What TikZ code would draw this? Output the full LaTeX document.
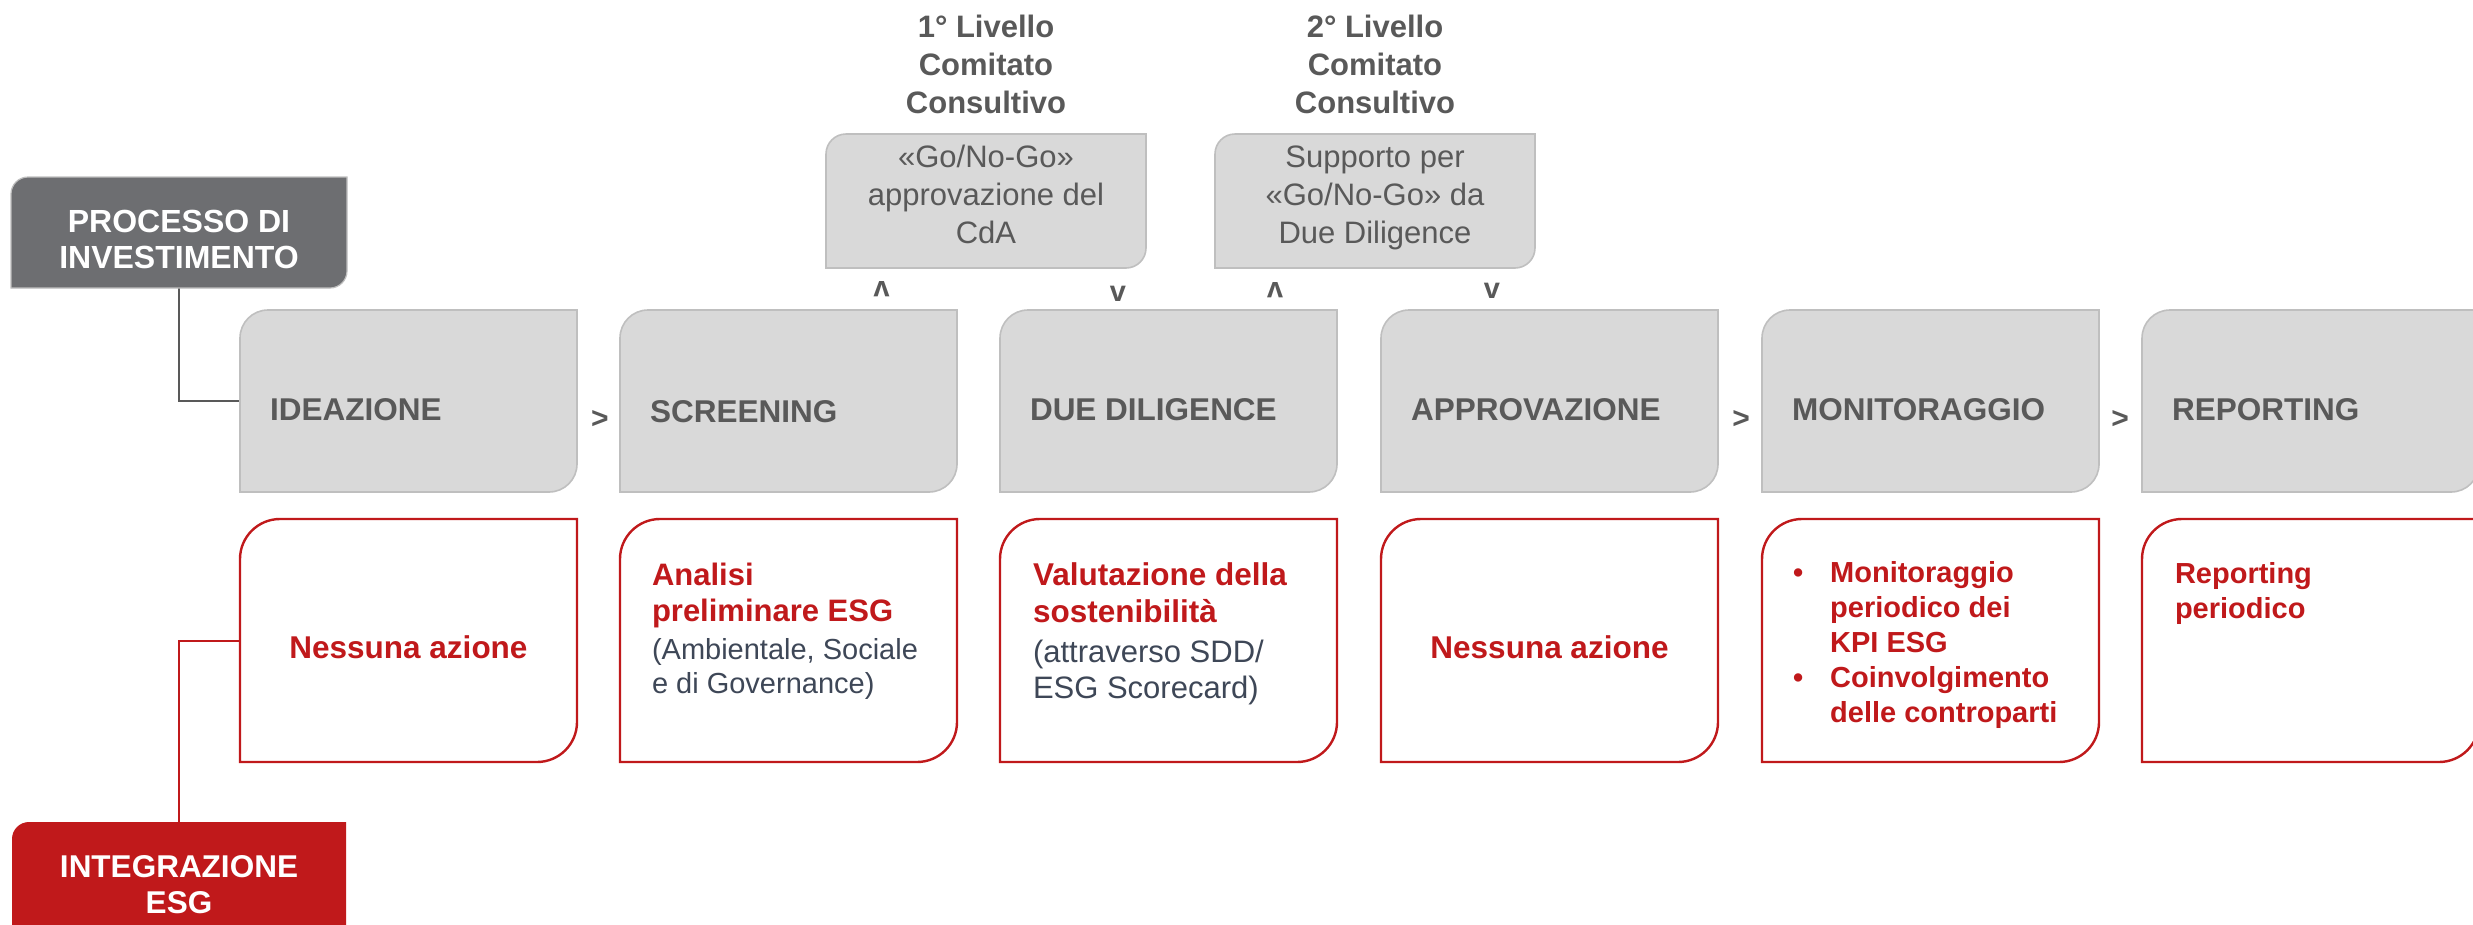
\documentclass[tikz,border=0pt]{standalone}
\usepackage{fontspec}
\setmainfont{Liberation Sans}
\definecolor{procgray}{HTML}{6D6E71}
\definecolor{stepfill}{HTML}{D9D9D9}
\definecolor{stepline}{HTML}{BFBFBF}
\definecolor{steptext}{HTML}{595959}
\definecolor{esgred}{HTML}{C0191B}
\definecolor{bodytext}{HTML}{3E4757}
% draw a box with rounded top-left and bottom-right corners around a named node
\newcommand\tlbrbox[3]{%
  \path[#3] (#1.south west) -- ([yshift=-#2]#1.north west)
    arc[start angle=180,end angle=90,radius=#2] -- (#1.north east)
    -- ([yshift=#2]#1.south east) arc[start angle=0,end angle=-90,radius=#2] -- cycle;}
\tikzset{
  frame/.style={rectangle,draw=none,inner sep=0pt,outer sep=0pt},
  stepframe/.style={frame,minimum width=337pt,minimum height=182pt},
  esgframe/.style={frame,minimum width=337pt,minimum height=243pt},
  comframe/.style={frame,minimum width=320pt,minimum height=134pt},
  grayfill/.style={fill=stepfill,draw=stepline,line width=1.6pt},
  redoutline/.style={fill=white,draw=esgred,line width=2.4pt},
  txt/.style={inner sep=0pt,outer sep=0pt},
  steplabel/.style={txt,anchor=base west,text=steptext,font=\fontsize{31.5}{36}\selectfont\bfseries},
  sep/.style={txt,anchor=base,text=steptext,font=\fontsize{30}{36}\selectfont\bfseries},
  vmark/.style={txt,anchor=center,text=steptext,font=\fontsize{29}{34}\selectfont\bfseries},
  title/.style={txt,anchor=base,text=steptext,font=\fontsize{31}{38}\selectfont\bfseries},
  comtext/.style={txt,anchor=base,text=steptext,font=\fontsize{31}{38}\selectfont},
  redbig/.style={txt,anchor=base,text=esgred,font=\fontsize{31.5}{36}\selectfont\bfseries},
  conn/.style={draw=steptext,line width=1.8pt},
  redconn/.style={draw=esgred,line width=2pt},
}
\begin{document}
\begin{tikzpicture}[x=1pt,y=-1pt]
\useasboundingbox (0,0) rectangle (2473,924);
\clip (0,0) rectangle (2473,924);

% ---- frames (named nodes) ----
\node[frame,minimum width=336pt,minimum height=111pt] (proc) at (179,232.5) {};
\node[frame,minimum width=334pt,minimum height=138pt] (integ) at (179,891) {};
\node[stepframe] (ide) at (408.5,401) {};
\node[stepframe] (scr) at (788.5,401) {};
\node[stepframe] (due) at (1168.5,401) {};
\node[stepframe] (app) at (1549.5,401) {};
\node[stepframe] (mon) at (1930.5,401) {};
\node[stepframe] (rep) at (2310.5,401) {};
\node[esgframe] (r1) at (408.5,640.5) {};
\node[esgframe] (r2) at (788.5,640.5) {};
\node[esgframe] (r3) at (1168.5,640.5) {};
\node[esgframe] (r4) at (1549.5,640.5) {};
\node[esgframe] (r5) at (1930.5,640.5) {};
\node[esgframe] (r6) at (2310.5,640.5) {};
\node[comframe] (com1) at (986,201) {};
\node[comframe] (com2) at (1375,201) {};

% ---- connectors ----
\draw[conn] (proc.south) |- (ide.west);
\draw[redconn] (integ.north) |- (r1.west);

% ---- shapes ----
\tlbrbox{proc}{17pt}{fill=procgray,draw=stepline,line width=1.2pt}
\tlbrbox{integ}{17pt}{fill=esgred,draw=none}
\foreach \n in {ide,scr,due,app,mon,rep}{\tlbrbox{\n}{28pt}{grayfill}}
\foreach \n in {r1,r2,r3,r4,r5,r6}{\tlbrbox{\n}{40pt}{redoutline}}
\tlbrbox{com1}{20pt}{grayfill}
\tlbrbox{com2}{20pt}{grayfill}

% ---- side labels ----
\node[txt,anchor=base,text=white,font=\fontsize{32}{36}\selectfont\bfseries] (procT) at (179,232)
  {\begin{tabular}[t]{@{}c@{}}PROCESSO DI\\INVESTIMENTO\end{tabular}};
\node[txt,anchor=base,text=white,font=\fontsize{31.5}{36}\selectfont\bfseries] (integT) at (179,877)
  {\begin{tabular}[t]{@{}c@{}}INTEGRAZIONE\\ESG\end{tabular}};

% ---- step labels ----
\node[steplabel] (ideT) at (270,420) {IDEAZIONE};
\node[steplabel] (scrT) at (650,422) {SCREENING};
\node[steplabel] (dueT) at (1030,420) {DUE DILIGENCE};
\node[steplabel] (appT) at (1411,420) {APPROVAZIONE};
\node[steplabel] (monT) at (1792,420) {MONITORAGGIO};
\node[steplabel] (repT) at (2172,420) {REPORTING};

% ---- separators ----
\node[sep] (s1) at (600,428) {>};
\node[sep] (s2) at (1741,428) {>};
\node[sep] (s3) at (2120,428) {>};
\node[vmark,rotate=180] (u1) at (881.5,289.5) {v};
\node[vmark] (d1) at (1118,293.5) {v};
\node[vmark,rotate=180] (u2) at (1275,290) {v};
\node[vmark] (d2) at (1492,291) {v};

% ---- committee ----
\node[title] (tit1) at (986,37) {\begin{tabular}[t]{@{}c@{}}1° Livello\\Comitato\\Consultivo\end{tabular}};
\node[title] (tit2) at (1375,37) {\begin{tabular}[t]{@{}c@{}}2° Livello\\Comitato\\Consultivo\end{tabular}};
\node[comtext] (com1T) at (986,167) {\begin{tabular}[t]{@{}c@{}}«Go/No-Go»\\approvazione del\\CdA\end{tabular}};
\node[comtext] (com2T) at (1375,167) {\begin{tabular}[t]{@{}c@{}}Supporto per\\«Go/No-Go» da\\Due Diligence\end{tabular}};

% ---- ESG texts ----
\node[redbig] (r1T) at (408.5,658) {Nessuna azione};
\node[redbig] (r4T) at (1549.5,658) {Nessuna azione};
\node[txt,anchor=base west,font=\fontsize{31}{36}\selectfont] (r2T) at (652,585)
  {\begin{tabular}[t]{@{}l@{}}\color{esgred}\bfseries Analisi\\
   \color{esgred}\bfseries preliminare ESG\\[2pt]
   \color{bodytext}\fontsize{29}{34}\selectfont (Ambientale, Sociale\\[-2pt]
   \color{bodytext}\fontsize{29}{34}\selectfont e di Governance)\end{tabular}};
\node[txt,anchor=base west,font=\fontsize{31.5}{37}\selectfont] (r3T) at (1033,585)
  {\begin{tabular}[t]{@{}l@{}}\color{esgred}\bfseries Valutazione della\\
   \color{esgred}\bfseries sostenibilità\\[3pt]
   \color{bodytext}\fontsize{31}{36}\selectfont (attraverso SDD/\\[-1pt]
   \color{bodytext}\fontsize{31}{36}\selectfont ESG Scorecard)\end{tabular}};
\node[txt,anchor=base west,text=esgred,font=\fontsize{29}{35}\selectfont\bfseries] (r5T) at (1793,582)
  {\begin{tabular}[t]{@{}l@{\hspace{27pt}}l@{}}•&Monitoraggio\\&periodico dei\\&KPI ESG\\•&Coinvolgimento\\&delle controparti\end{tabular}};
\node[txt,anchor=base west,text=esgred,font=\fontsize{29}{35}\selectfont\bfseries] (r6T) at (2175,583)
  {\begin{tabular}[t]{@{}l@{}}Reporting\\periodico\end{tabular}};
\end{tikzpicture}
\end{document}
